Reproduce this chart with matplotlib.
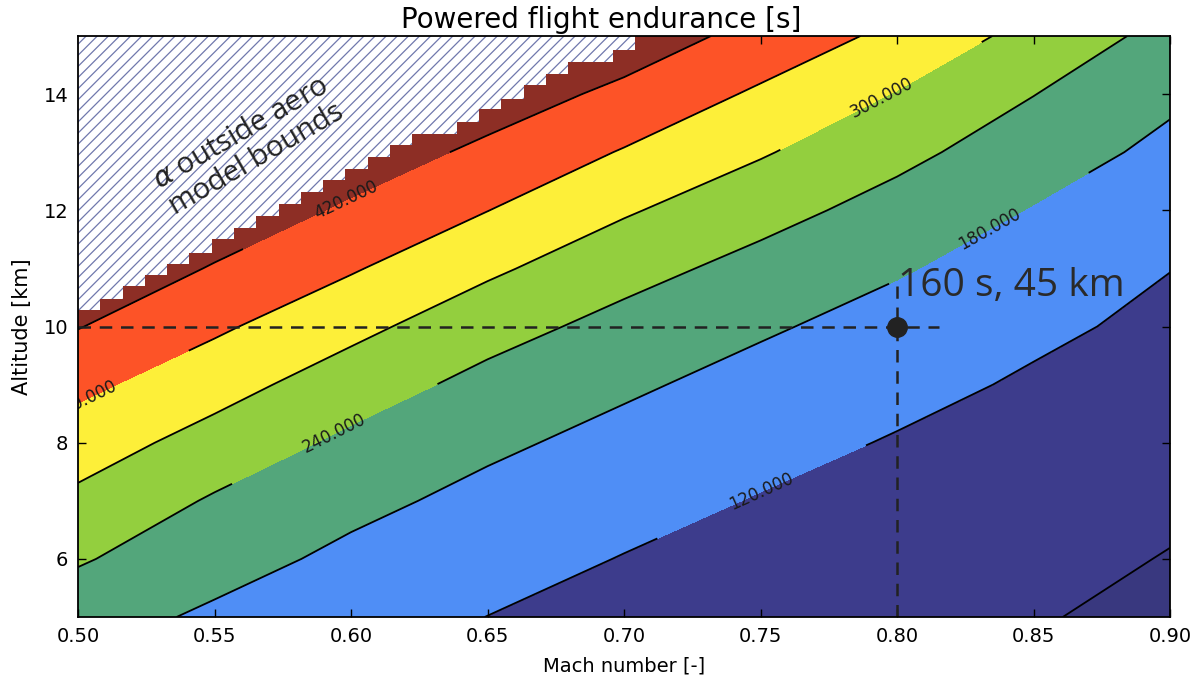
import numpy as np
import matplotlib
matplotlib.use("Agg")
import matplotlib.pyplot as plt

# Flight condition grid
mach = [0.50, 0.55, 0.60, 0.65, 0.70, 0.75, 0.80, 0.85, 0.90]
altitude_km = [5, 6, 7, 8, 9, 10, 11, 12, 13, 14, 15]

# Powered flight endurance [s] along altitude, one list per Mach number
e_m050 = [204.7, 245.8, 286.8, 329.6, 374.4, 422.4, 470.0, 518.0, 566.0, 614.0, 662.0]
e_m055 = [170.5, 202.1, 233.7, 277.0, 323.3, 369.6, 415.4, 461.2, 507.0, 553.0, 599.0]
e_m060 = [144.3, 167.4, 194.8, 227.6, 268.8, 316.4, 365.4, 410.2, 455.0, 500.0, 545.0]
e_m065 = [119.5, 142.1, 164.7, 190.4, 222.8, 262.4, 310.6, 360.9, 406.7, 452.5, 498.0]
e_m070 = [102.9, 117.9, 139.9, 163.0, 188.6, 221.7, 260.5, 306.4, 356.0, 405.6, 455.2]
e_m075 = [88.8, 102.8, 116.8, 137.9, 161.2, 186.9, 221.2, 260.3, 305.5, 351.0, 400.0]
e_m080 = [78.5, 91.0, 103.5, 116.0, 136.1, 159.8, 185.1, 218.8, 255.4, 297.1, 345.4]
e_m085 = [64.1, 76.4, 88.7, 101.0, 113.2, 130.5, 153.8, 177.0, 208.4, 241.2, 280.4]
e_m090 = [45.0, 57.6, 70.2, 82.8, 95.4, 108.0, 120.9, 143.3, 165.7, 191.0, 221.6]

# altitude above which alpha leaves the aero model, per column of the 50-point Mach grid
alpha_limit_alt = [10.29, 10.48, 10.69, 10.88, 11.08, 11.27, 11.51, 11.70, 11.91, 12.11,
                   12.32, 12.53, 12.71, 12.92, 13.13, 13.32, 13.32, 13.52, 13.75, 13.92,
                   14.16, 14.35, 14.55, 14.55, 14.76]

# design point
design_mach = 0.80
design_alt = 10.0

levels_fill = [0, 60, 120, 180, 240, 300, 360, 420, 1000]
levels_line = [60, 120, 180, 240, 300, 360, 420]
band_colors = ['#39387f', '#3d3c8c', '#4f8ef6', '#53a67b', '#93cf3e',
               '#fdef39', '#fd5327', '#8d2e25']


def main():
    plt.rcParams['hatch.linewidth'] = 0.9
    plt.rcParams['font.family'] = 'DejaVu Sans'

    E = np.array([e_m050, e_m055, e_m060, e_m065, e_m070,
                  e_m075, e_m080, e_m085, e_m090]).T

    fig = plt.figure(figsize=(11.98, 6.81), dpi=100)
    ax = fig.add_axes([78 / 1198, 1 - 617 / 681, 1092 / 1198, 581 / 681])

    ax.contourf(mach, altitude_km, E, levels=levels_fill, colors=band_colors)
    cs = ax.contour(mach, altitude_km, E, levels=levels_line, colors='k',
                    linewidths=1.3)
    label_spots = [(0.7497, 7.23), (0.8339, 11.67), (0.5934, 8.21),
                   (0.7947, 13.92), (0.503, 8.72), (0.5977, 12.23)]
    ax.clabel(cs, fmt='%.3f', fontsize=12, colors='#1a1a1a', inline=True,
              inline_spacing=80, manual=label_spots)
    for t in cs.labelTexts:
        t.set_clip_on(True)
        t.set_clip_box(ax.bbox)

    # hatched region where alpha is outside the aero model
    mach_grid = np.linspace(0.5, 0.9, 50)
    edges = mach_grid[:len(alpha_limit_alt) + 1]
    lims = alpha_limit_alt + [alpha_limit_alt[-1]]
    ax.fill_between(edges, lims, 15, step='post', facecolor='white',
                    edgecolor='#7078ad', hatch='///', linewidth=0, zorder=3)
    ax.text(0.5625, 13.1, '$\\alpha$ outside aero\nmodel bounds',
            rotation=30, ha='center', va='center', multialignment='center',
            rotation_mode='anchor', fontsize=21, color='#222222',
            family='Open Sans', linespacing=1.05, zorder=5)

    # design point
    ax.plot([0.5, 0.8155], [design_alt, design_alt], color='#222222',
            lw=1.8, ls=(0, (5, 3.5)), zorder=4)
    ax.plot([design_mach, design_mach], [5, 10.69], color='#222222',
            lw=1.8, ls=(0, (5, 3.5)), zorder=4)
    ax.plot(design_mach, design_alt, 'o', color='#222222', markersize=14,
            zorder=5)
    ax.text(0.8005, 10.52, '160 s, 45 km', fontsize=28, color='#2a2a2a',
            family='Open Sans', ha='left', va='baseline', zorder=5)

    ax.set_xlim(0.5, 0.9)
    ax.set_ylim(5, 15)
    ax.set_xticks(mach)
    ax.set_xticklabels(['%.2f' % m for m in mach])
    ax.set_yticks([6, 8, 10, 12, 14])
    ax.tick_params(direction='in', top=True, right=True, length=6, width=1,
                   labelsize=14, pad=7)
    for s in ax.spines.values():
        s.set_linewidth(1.3)
        s.set_zorder(6)

    ax.set_xlabel('Mach number [-]', fontsize=14, labelpad=8)
    ax.set_ylabel('Altitude [km]', fontsize=15, labelpad=8)
    ax.set_title('Powered flight endurance [s]', fontsize=20, x=0.479, pad=6)

    fig.savefig('out.png', dpi=100)


if __name__ == "__main__":
    main()
